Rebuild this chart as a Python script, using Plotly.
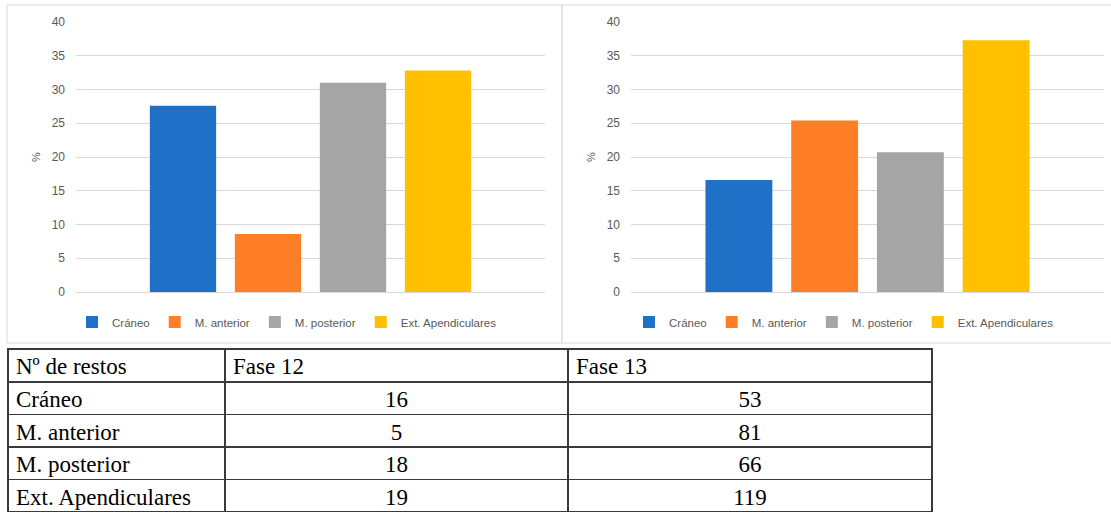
import plotly.graph_objects as go

# ---- data ----
categories = ["Cráneo", "M. anterior", "M. posterior", "Ext. Apendiculares"]
pct_fase12 = [27.6, 8.6, 31.0, 32.8]
pct_fase13 = [16.6, 25.4, 20.7, 37.3]
counts_fase12 = [16, 5, 18, 19]
counts_fase13 = [53, 81, 66, 119]
table_header = ["Nº de restos", "Fase 12", "Fase 13"]
colors = ["#1F71C7", "#FF7F27", "#A5A5A5", "#FFC000"]
y_ticks = [0, 5, 10, 15, 20, 25, 30, 35, 40]

W, H = 1111, 512
def px(x):
    return x / W
def py(y):
    return (H - y) / H

fig = go.Figure()

for i, cat in enumerate(categories):
    fig.add_trace(go.Bar(x=["Fase 12"], y=[pct_fase12[i]], name=cat,
                         marker=dict(color=colors[i], line=dict(width=0)),
                         xaxis="x", yaxis="y", legend="legend"))
for i, cat in enumerate(categories):
    fig.add_trace(go.Bar(x=["Fase 13"], y=[pct_fase13[i]], name=cat,
                         marker=dict(color=colors[i], line=dict(width=0)),
                         xaxis="x2", yaxis="y2", legend="legend2"))

fig.add_trace(go.Table(
    domain=dict(x=[px(8), px(932)], y=[0, py(349)]),
    columnwidth=[217, 343, 364],
    header=dict(values=table_header,
                align=["left", "left", "left"],
                fill_color="white",
                line=dict(color="#3a3a3a", width=1.5),
                font=dict(family="Liberation Serif", size=23, color="black"),
                height=33),
    cells=dict(values=[categories, counts_fase12, counts_fase13],
               align=["left", "center", "center"],
               fill_color="white",
               line=dict(color="#3a3a3a", width=1.5),
               font=dict(family="Liberation Serif", size=23, color="black"),
               height=32.5),
))

tickfont = dict(family="Liberation Sans", size=12, color="#595959")
yax = dict(range=[0, 40], tickvals=y_ticks, showgrid=True, gridcolor="#D9D9D9",
           gridwidth=1, zeroline=True, zerolinecolor="#D9D9D9", zerolinewidth=1,
           showline=False, tickfont=tickfont, ticks="", ticklabelstandoff=10,
           automargin=False,
           title=dict(text="%", font=dict(family="Liberation Sans", size=11, color="#595959"),
                      standoff=8),
           fixedrange=True)
xax = dict(showticklabels=False, showgrid=False, zeroline=False, showline=False,
           ticks="", fixedrange=True, automargin=False)

legfont = dict(family="Liberation Sans", size=11.5, color="#595959")

fig.update_layout(
    width=W, height=H,
    margin=dict(l=0, r=0, t=0, b=0, pad=0, autoexpand=False),
    paper_bgcolor="white", plot_bgcolor="white",
    barmode="group", bargap=0.275, bargroupgap=0.22,
    xaxis=dict(domain=[px(76), px(545)], anchor="y", **xax),
    yaxis=dict(domain=[py(292), py(22)], anchor="x", **yax),
    xaxis2=dict(domain=[px(631), px(1104)], anchor="y2", **xax),
    yaxis2=dict(domain=[py(292), py(22)], anchor="x2", **yax),
    legend=dict(orientation="h", x=px(287), xanchor="center", y=py(322), yanchor="middle",
                font=legfont, itemwidth=30, traceorder="normal", bgcolor="rgba(0,0,0,0)"),
    legend2=dict(orientation="h", x=px(844), xanchor="center", y=py(322), yanchor="middle",
                 font=legfont, itemwidth=30, traceorder="normal", bgcolor="rgba(0,0,0,0)"),
    shapes=[
        dict(type="rect", xref="paper", yref="paper", x0=px(7), x1=px(562), y0=py(343), y1=py(5),
             line=dict(color="#D9D9D9", width=1), fillcolor="rgba(0,0,0,0)", layer="below"),
        dict(type="rect", xref="paper", yref="paper", x0=px(562), x1=px(1112), y0=py(343), y1=py(5),
             line=dict(color="#D9D9D9", width=1), fillcolor="rgba(0,0,0,0)", layer="below"),
    ],
)

fig.write_html("out.html", config={"displayModeBar": False},
               post_script="document.body.style.margin='0px';")
